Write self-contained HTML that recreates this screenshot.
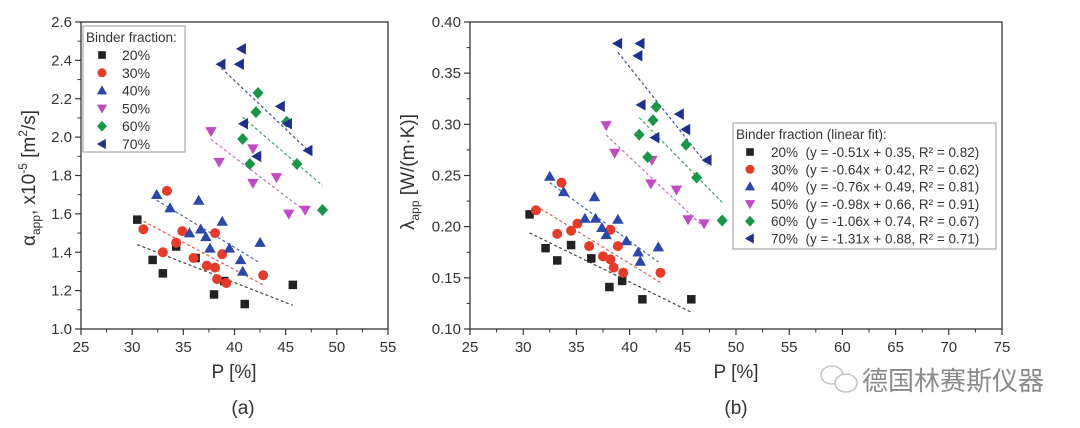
<!DOCTYPE html>
<html><head><meta charset="utf-8"><style>
html,body{margin:0;padding:0;background:#fff;width:1080px;height:428px;overflow:hidden}
svg{display:block;font-family:"Liberation Sans",Arial,sans-serif}
</style></head><body>
<svg id="fig" width="1080" height="428" viewBox="0 0 1080 428" xmlns="http://www.w3.org/2000/svg">
<g id="chartA"></g>
<g id="chartB"></g>
<text x="243" y="414" font-size="19" text-anchor="middle" fill="#333">(a)</text>
<text x="736" y="414" font-size="19" text-anchor="middle" fill="#333">(b)</text>
<g>
<ellipse cx="832" cy="375" rx="11" ry="9" fill="none" stroke="#bbb" stroke-width="1.3"/>
<ellipse cx="846" cy="383" rx="11" ry="9" fill="#fff" stroke="#bbb" stroke-width="1.3"/>
<text x="862" y="390" font-size="26" fill="#8a8a8a" font-family="'Liberation Sans','Noto Sans CJK SC',sans-serif">德国林赛斯仪器</text>
</g>
</svg>
<script>
// ---------- data ----------
const seriesNames = ["20%","30%","40%","50%","60%","70%"];
const seriesColors = ["#222222","#e53b2a","#2b48a6","#c14bc2","#1b9548","#1f2f8c"];
const seriesShapes = ["square","circle","up","down","diamond","left"];

// Chart (a): P [%] vs alpha_app x1e-5 [m2/s]
const a20P = [30.5,32,33,34.3,36.2,38,39,41,45.7];
const a20V = [1.57,1.36,1.29,1.43,1.37,1.18,1.25,1.13,1.23];
const a30P = [33.4,31.1,33,34.3,34.9,36,37.3,38.1,38.1,38.3,38.8,39.2,42.8];
const a30V = [1.72,1.52,1.40,1.45,1.51,1.37,1.33,1.50,1.32,1.26,1.39,1.24,1.28];
const a40P = [32.4,33.7,35.6,36.5,36.7,37.2,37.6,38.8,39.5,40.6,40.8,42.5];
const a40V = [1.70,1.63,1.50,1.67,1.52,1.48,1.42,1.56,1.42,1.36,1.30,1.45];
const a50P = [37.7,38.5,41.8,41.8,44.1,45.3,46.9];
const a50V = [2.03,1.87,1.94,1.76,1.79,1.60,1.62];
const a60P = [42.3,42.1,45.1,40.8,41.5,46.1,48.6];
const a60V = [2.23,2.13,2.08,1.99,1.86,1.86,1.62];
const a70P = [40.7,38.7,40.5,44.5,40.9,45.2,42.2,47.2];
const a70V = [2.46,2.38,2.38,2.16,2.07,2.07,1.90,1.93];

// Chart (b): P [%] vs lambda_app [W/(m K)]
const b20P = [30.6,32.1,33.2,34.5,36.4,38.1,39.3,41.2,45.8];
const b20V = [0.212,0.179,0.167,0.182,0.169,0.141,0.147,0.129,0.129];
const b30P = [31.2,33.6,33.2,34.5,35.1,36.2,37.5,38.2,38.2,38.5,38.9,39.4,42.9];
const b30V = [0.216,0.243,0.193,0.196,0.203,0.181,0.171,0.197,0.168,0.160,0.181,0.155,0.155];
const b40P = [32.5,33.8,36.7,35.8,36.8,37.4,37.8,38.9,39.7,40.8,41.0,42.7];
const b40V = [0.249,0.234,0.229,0.208,0.208,0.199,0.192,0.207,0.186,0.175,0.166,0.180];
const b50P = [37.8,38.6,42.1,42.0,44.4,45.5,47.0];
const b50V = [0.299,0.272,0.265,0.242,0.236,0.207,0.203];
const b60P = [42.5,42.2,40.9,45.3,41.7,46.3,48.7];
const b60V = [0.317,0.304,0.290,0.280,0.268,0.248,0.206];
const b70P = [38.9,41.0,40.8,41.1,44.7,42.4,45.3,47.3];
const b70V = [0.379,0.379,0.367,0.319,0.310,0.287,0.295,0.265];
const bSlopes = [-0.51,-0.64,-0.76,-0.98,-1.06,-1.31];
const bIntercepts = [0.35,0.42,0.49,0.66,0.74,0.88];
const bR2 = ["0.82","0.62","0.81","0.91","0.67","0.71"];

const aXTicks = [25,30,35,40,45,50,55];
const aYTicks = [1.0,1.2,1.4,1.6,1.8,2.0,2.2,2.4,2.6];
const bXTicks = [25,30,35,40,45,50,55,60,65,70,75];
const bYTicks = [0.10,0.15,0.20,0.25,0.30,0.35,0.40];

const NS = "http://www.w3.org/2000/svg";
function mk(tag, attrs, parent){
  const e = document.createElementNS(NS, tag);
  for (const k in attrs) e.setAttribute(k, attrs[k]);
  parent.appendChild(e);
  return e;
}
function marker(parent, shape, x, y, color, s){
  let e;
  if (shape==="square") e = mk("rect",{x:x-s*0.85,y:y-s*0.85,width:s*1.7,height:s*1.7,fill:color},parent);
  else if (shape==="circle") e = mk("circle",{cx:x,cy:y,r:s,fill:color},parent);
  else if (shape==="up") e = mk("polygon",{points:`${x},${y-s*1.15} ${x+s*1.15},${y+s*0.85} ${x-s*1.15},${y+s*0.85}`,fill:color},parent);
  else if (shape==="down") e = mk("polygon",{points:`${x},${y+s*1.15} ${x+s*1.15},${y-s*0.85} ${x-s*1.15},${y-s*0.85}`,fill:color},parent);
  else if (shape==="diamond") e = mk("polygon",{points:`${x},${y-s*1.2} ${x+s*1.1},${y} ${x},${y+s*1.2} ${x-s*1.1},${y}`,fill:color},parent);
  else e = mk("polygon",{points:`${x-s*1.15},${y} ${x+s*0.85},${y-s*1.15} ${x+s*0.85},${y+s*1.15}`,fill:color},parent);
  return e;
}
function regress(xs, ys){
  const n=xs.length; let sx=0,sy=0,sxx=0,sxy=0;
  for(let i=0;i<n;i++){sx+=xs[i];sy+=ys[i];sxx+=xs[i]*xs[i];sxy+=xs[i]*ys[i];}
  const m=(n*sxy-sx*sy)/(n*sxx-sx*sx); return [m,(sy-m*sx)/n];
}

function drawChart(g, cfg){
  const {x0,x1,y0,y1,xmin,xmax,ymin,ymax} = cfg;
  const sx = v => x0 + (v-xmin)/(xmax-xmin)*(x1-x0);
  const sy = v => y1 - (v-ymin)/(ymax-ymin)*(y1-y0);
  const fr = mk("rect",{x:x0,y:y0,width:x1-x0,height:y1-y0,fill:"none",stroke:"#333","stroke-width":1.3},g);
  
  
  const xt = cfg.xTicks, step = xt[1]-xt[0];
  for (let i=0;i<xt.length;i++){
    const px = sx(xt[i]);
    mk("line",{x1:px,y1:y1,x2:px,y2:y1+6,stroke:"#333","stroke-width":1.2},g);
    if (i<xt.length-1){ const pm = sx(xt[i]+step/2); mk("line",{x1:pm,y1:y1,x2:pm,y2:y1+3.5,stroke:"#333","stroke-width":1},g); }
    const t = mk("text",{x:px,y:y1+23,"font-size":15,"text-anchor":"middle",fill:"#333"},g);
    t.textContent = xt[i];
    
    
  }
  const yt = cfg.yTicks, ystep = yt[1]-yt[0];
  for (let i=0;i<yt.length;i++){
    const py = sy(yt[i]);
    mk("line",{x1:x0-6,y1:py,x2:x0,y2:py,stroke:"#333","stroke-width":1.2},g);
    if (i<yt.length-1){ const pm = sy(yt[i]+ystep/2); mk("line",{x1:x0-3.5,y1:pm,x2:x0,y2:pm,stroke:"#333","stroke-width":1},g); }
    const t = mk("text",{x:x0-9,y:py+5,"font-size":15,"text-anchor":"end",fill:"#333"},g);
    t.textContent = yt[i].toFixed(cfg.yDec);
    
    
  }
  for (let s=0;s<cfg.series.length;s++){
    const P = cfg.series[s][0], V = cfg.series[s][1];
    const mc = cfg.fit(s,P,V);
    const xa = Math.min(...P), xb = Math.max(...P);
    const l = mk("line",{x1:sx(xa),y1:sy(mc[0]*xa+mc[1]),x2:sx(xb),y2:sy(mc[0]*xb+mc[1]),stroke:seriesColors[s],"stroke-width":1.2,"stroke-dasharray":"3,2.5",opacity:0.85},g);
    
    
  }
  for (let s=0;s<cfg.series.length;s++){
    const P = cfg.series[s][0], V = cfg.series[s][1];
    for (let i=0;i<P.length;i++){
      const e = marker(g, seriesShapes[s], sx(P[i]), sy(V[i]), seriesColors[s], 5);
      
      
    }
  }
}

const gA = document.getElementById("chartA");
drawChart(gA,{x0:81,x1:388,y0:22,y1:329,xmin:25,xmax:55,ymin:1.0,ymax:2.6,xTicks:aXTicks,yTicks:aYTicks,yDec:1,
  series:[[a20P,a20V],[a30P,a30V],[a40P,a40V],[a50P,a50V],[a60P,a60V],[a70P,a70V]],
  fit:(s,P,V)=>regress(P,V)});
const gB = document.getElementById("chartB");
drawChart(gB,{x0:470,x1:1002,y0:22,y1:329,xmin:25,xmax:75,ymin:0.10,ymax:0.40,xTicks:bXTicks,yTicks:bYTicks,yDec:2,
  series:[[b20P,b20V],[b30P,b30V],[b40P,b40V],[b50P,b50V],[b60P,b60V],[b70P,b70V]],
  fit:(s)=>[bSlopes[s]/100,bIntercepts[s]]});

function txt(parent, attrs, html, name){
  const t = mk("text", attrs, parent);
  t.innerHTML = html;
  
  
  return t;
}
txt(gA,{x:234,y:378,"font-size":19,"text-anchor":"middle",fill:"#333"},"P [%]","x-axis-title-a");
txt(gB,{x:736,y:378,"font-size":19,"text-anchor":"middle",fill:"#333"},"P [%]","x-axis-title-b");
txt(gA,{x:0,y:0,"font-size":19,"text-anchor":"middle",fill:"#333",transform:"translate(35,178) rotate(-90)"},
  "α<tspan font-size='12' dy='5'>app</tspan><tspan dy='-5'>, x10</tspan><tspan font-size='12' dy='-8'>-5</tspan><tspan dy='8'> [m</tspan><tspan font-size='12' dy='-8'>2</tspan><tspan dy='8'>/s]</tspan>","y-axis-title-a");
txt(gB,{x:0,y:0,"font-size":19,"text-anchor":"middle",fill:"#333",transform:"translate(414,172) rotate(-90)"},
  "λ<tspan font-size='12' dy='5'>app</tspan><tspan dy='-5'> [W/(m·K)]</tspan>","y-axis-title-b");

const lgA = mk("g",{},gA);


mk("rect",{x:83,y:26,width:102,height:126,fill:"#fff",stroke:"#999","stroke-width":1},lgA);
txt(lgA,{x:86,y:42,"font-size":13.5,fill:"#333"},"Binder fraction:","legend-a-title");
for (let s=0;s<6;s++){
  const y = 55 + s*17.8;
  const e = marker(lgA, seriesShapes[s], 102, y, seriesColors[s], 4.5);
  
  
  txt(lgA,{x:122,y:y+5,"font-size":14,fill:"#333"},seriesNames[s],"legend-a-entry");
}
const lgB = mk("g",{},gB);


mk("rect",{x:733,y:123,width:263,height:126,fill:"#fff",stroke:"#999","stroke-width":1},lgB);
txt(lgB,{x:736,y:139,"font-size":13.5,fill:"#333"},"Binder fraction (linear fit):","legend-b-title");
for (let s=0;s<6;s++){
  const y = 152 + s*17.3;
  const e = marker(lgB, seriesShapes[s], 750, y, seriesColors[s], 4.5);
  
  
  const t = mk("text",{x:771,y:y+5,"font-size":13.5,fill:"#333",style:"white-space:pre"},lgB);
  t.textContent = seriesNames[s]+"  (y = "+bSlopes[s].toFixed(2)+"x + "+bIntercepts[s].toFixed(2)+", R² = "+bR2[s]+")";
  
  
}
</script>
</body></html>
